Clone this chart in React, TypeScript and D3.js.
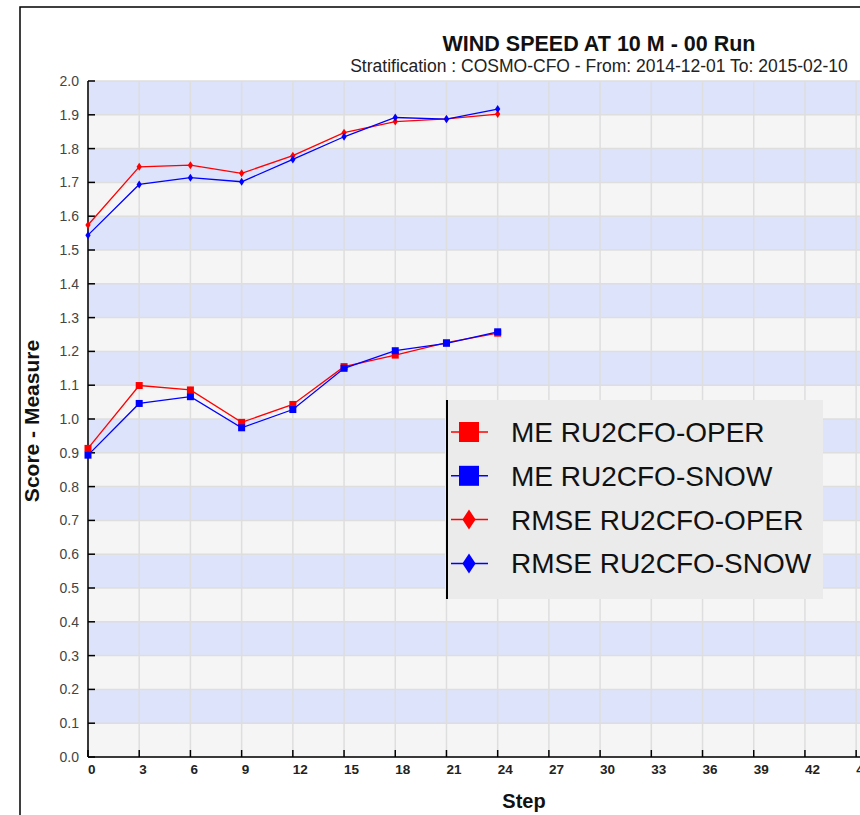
import React from "react";
import * as d3 from "d3";

const steps = [0, 3, 6, 9, 12, 15, 18, 21, 24];
const meOper = [0.913, 1.099, 1.086, 0.99, 1.043, 1.155, 1.189, 1.226, 1.254];
const meSnow = [0.893, 1.046, 1.066, 0.974, 1.028, 1.15, 1.202, 1.224, 1.258];
const rmseOper = [1.574, 1.746, 1.751, 1.727, 1.779, 1.847, 1.88, 1.888, 1.902];
const rmseSnow = [1.544, 1.694, 1.714, 1.702, 1.768, 1.835, 1.892, 1.887, 1.917];

const xTicks = d3.range(0, 49, 3);
const yTicks = d3.range(0, 21).map(i => i / 10);

const series = [
  { name: "ME RU2CFO-OPER", values: meOper, color: "#ff0000", shape: "square" },
  { name: "ME RU2CFO-SNOW", values: meSnow, color: "#0000ff", shape: "square" },
  { name: "RMSE RU2CFO-OPER", values: rmseOper, color: "#ff0000", shape: "diamond" },
  { name: "RMSE RU2CFO-SNOW", values: rmseSnow, color: "#0000ff", shape: "diamond" },
];

const W = 860;
const H = 815;
const left = 88, top = 81, bottom = 757;
const font = "'Liberation Sans', Arial, sans-serif";

const App = () => {
  const x = d3.scaleLinear().domain([0, 48]).range([left, left + 48 * 17.07]);
  const y = d3.scaleLinear().domain([0, 2]).range([bottom, top]);
  const right = x(48);

  const line = d3
    .line<number>()
    .x((d, i) => x(steps[i]))
    .y(d => y(d));

  const marker = (shape: string, cx: number, cy: number, color: string, s: number) =>
    shape === "square" ? (
      <rect x={cx - s / 2} y={cy - s / 2} width={s} height={s} fill={color} />
    ) : (
      <path
        d={`M${cx},${cy - s / 2}L${cx + s * 0.33},${cy}L${cx},${cy + s / 2}L${cx - s * 0.33},${cy}Z`}
        fill={color}
      />
    );

  return (
    <svg width={W} height={H} style={{ position: "absolute", left: 0, top: 0, display: "block" }} fontFamily={font}>
      <rect x={0} y={0} width={W} height={H} fill="#ffffff" />
      <rect x={20} y={7} width={1200} height={1200} fill="#ffffff" stroke="#000" strokeWidth={1.5} />

      <text x={599} y={51} textAnchor="middle" fontWeight="bold" fontSize={21.5} fill="#111">
        WIND SPEED AT 10 M - 00 Run
      </text>
      <text x={599} y={72} textAnchor="middle" fontSize={17.5} fill="#222">
        Stratification : COSMO-CFO - From: 2014-12-01 To: 2015-02-10
      </text>

      {/* bands */}
      {d3.range(0, 20).map(i => (
        <rect
          key={"b" + i}
          x={left}
          y={y((i + 1) / 10)}
          width={right - left}
          height={y(i / 10) - y((i + 1) / 10)}
          fill={i % 2 === 0 ? "#f5f5f5" : "#dce3fb"}
        />
      ))}
      {/* grid */}
      {yTicks.map(t => (
        <line key={"gy" + t} x1={left} x2={right} y1={y(t)} y2={y(t)} stroke="#dedede" strokeWidth={1.5} />
      ))}
      {xTicks.map(t => (
        <line key={"gx" + t} x1={x(t)} x2={x(t)} y1={top} y2={bottom} stroke="#dedede" strokeWidth={1.5} />
      ))}

      {/* axes */}
      <line x1={left} x2={left} y1={top} y2={bottom} stroke="#000" strokeWidth={1.5} />
      <line x1={left} x2={right} y1={bottom} y2={bottom} stroke="#000" strokeWidth={1.5} />
      {yTicks.map(t => (
        <g key={"ty" + t}>
          <line x1={left} x2={left + 7} y1={y(t)} y2={y(t)} stroke="#000" strokeWidth={1.5} />
          <text x={79} y={y(t)} dy="0.35em" textAnchor="end" fontSize={14} fill="#444">
            {d3.format(".1f")(t)}
          </text>
        </g>
      ))}
      {xTicks.map(t => (
        <g key={"tx" + t}>
          <line x1={x(t)} x2={x(t)} y1={bottom} y2={bottom - 7} stroke="#000" strokeWidth={1.5} />
          <text x={x(t)} y={774} fontSize={13.5} fontWeight="bold" fill="#222">
            {t}
          </text>
        </g>
      ))}

      <text x={524} y={808} textAnchor="middle" fontSize={20} fontWeight="bold" fill="#111">
        Step
      </text>
      <text
        transform={`translate(39, ${(top + bottom) / 2 + 2}) rotate(-90)`}
        textAnchor="middle"
        fontSize={21}
        fontWeight="bold"
        fill="#111"
      >
        Score - Measure
      </text>

      {/* series */}
      {series.map(s => (
        <g key={s.name}>
          <path d={line(s.values) || ""} fill="none" stroke={s.color} strokeWidth={1.3} />
          {s.values.map((v, i) => (
            <g key={i}>{marker(s.shape, x(steps[i]), y(v), s.color, s.shape === "square" ? 7 : 8)}</g>
          ))}
        </g>
      ))}

      {/* legend */}
      <rect x={445} y={400} width={378} height={199} fill="#ebebeb" />
      <line x1={447} x2={447} y1={400} y2={599} stroke="#000" strokeWidth={2} />
      {series.map((s, i) => {
        const cy = 432 + i * 43.8;
        return (
          <g key={"l" + s.name}>
            <line x1={451} x2={488} y1={cy} y2={cy} stroke={s.color} strokeWidth={1.5} />
            {marker(s.shape, 469, cy, s.color, 20)}
            <text x={511} y={cy} dy="0.36em" fontSize={28} fill="#111">
              {s.name}
            </text>
          </g>
        );
      })}
    </svg>
  );
};

export default App;
